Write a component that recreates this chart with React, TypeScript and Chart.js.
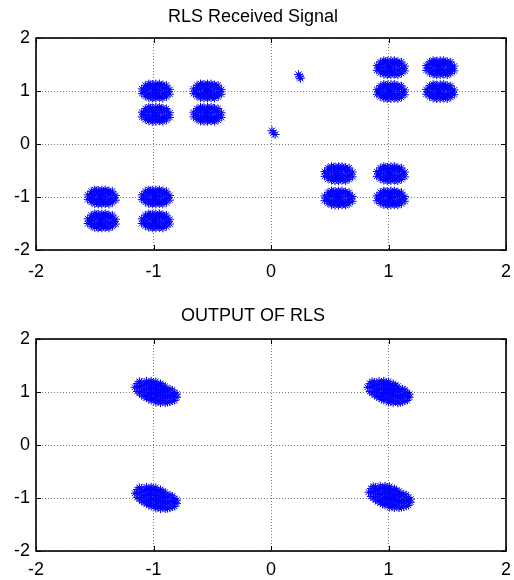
import React, { useEffect, useRef } from 'react';
import { Chart, registerables } from 'chart.js';

Chart.register(...registerables);

// ---- Data ----
// Top plot: "RLS Received Signal" — cluster centres
const receivedClusterX = [-0.98, -0.98, -0.54, -0.54, -1.44, -1.44, -0.98, -0.98, 1.02, 1.02, 1.44, 1.44, 0.575, 0.575, 1.02, 1.02];
const receivedClusterY = [1.0, 0.56, 1.0, 0.56, -1.0, -1.45, -1.0, -1.45, 1.44, 0.99, 1.44, 0.99, -0.56, -1.02, -0.56, -1.02];
// spread of samples around each received cluster centre
const receivedSpreadDx = [
  -0.12, -0.12,
  -0.09, -0.09, -0.09, -0.09,
  -0.06, -0.06, -0.06, -0.06, -0.06,
  -0.03, -0.03, -0.03, -0.03, -0.03,
  0, 0, 0, 0, 0, 0,
  0.03, 0.03, 0.03, 0.03, 0.03,
  0.06, 0.06, 0.06, 0.06,
  0.09, 0.09, 0.09, 0.09,
  0.12, 0.12,
  -0.105, 0.105, -0.075, -0.075, 0.075, 0.075, -0.045, -0.045, 0.045, 0.045, -0.015, -0.015, 0.015, 0.015,
];
const receivedSpreadDy = [
  -0.05, 0.04,
  -0.1, -0.02, 0.06, 0.11,
  -0.13, -0.05, 0.03, 0.1, 0.14,
  -0.14, -0.07, 0.0, 0.07, 0.13,
  -0.14, -0.09, -0.03, 0.03, 0.09, 0.14,
  -0.13, -0.06, 0.01, 0.08, 0.14,
  -0.14, -0.04, 0.04, 0.12,
  -0.11, -0.03, 0.05, 0.11,
  -0.06, 0.03,
  0.0, -0.01, -0.07, 0.08, 0.08, -0.08, 0.12, -0.11, -0.11, 0.11, 0.04, -0.04, -0.1, 0.1,
];
// isolated received samples
const receivedOutlierX = [0.235, 0.245, 0.25, 0.008, 0.02, 0.035];
const receivedOutlierY = [1.31, 1.27, 1.24, 0.25, 0.21, 0.18];

// Bottom plot: "OUTPUT OF RLS" — cluster centres
const outputClusterX = [-0.98, -0.98, 1.0, 1.01];
const outputClusterY = [1.0, -1.0, 1.0, -0.98];
// tilted spread around each output cluster centre
const outputSpreadDx = [
  -0.16, -0.16,
  -0.12, -0.12, -0.12,
  -0.08, -0.08, -0.08, -0.08,
  -0.04, -0.04, -0.04, -0.04, -0.04,
  0, 0, 0, 0, 0,
  0.04, 0.04, 0.04, 0.04, 0.04,
  0.08, 0.08, 0.08, 0.08,
  0.12, 0.12, 0.12,
  0.16, 0.16,
  -0.14, -0.14, -0.14,
  -0.1, -0.1, -0.1,
  -0.06, -0.06, -0.06, -0.06,
  -0.02, -0.02, -0.02, -0.02,
  0.02, 0.02, 0.02, 0.02,
  0.06, 0.06, 0.06, 0.06,
  0.1, 0.1, 0.1,
  0.14, 0.14, 0.14,
  -0.16,
  -0.12, -0.12,
  -0.08, -0.08, -0.08,
  -0.04, -0.04, -0.04, -0.04,
  0, 0, 0, 0,
  0.04, 0.04, 0.04, 0.04,
  0.08, 0.08, 0.08,
  0.12, 0.12,
  0.16,
  0.18, 0.18,
  -0.18,
];
const outputSpreadDy = [
  0.01, 0.16,
  -0.06, 0.06, 0.19,
  -0.11, 0.0, 0.11, 0.21,
  -0.16, -0.06, 0.04, 0.14, 0.21,
  -0.2, -0.1, 0.0, 0.1, 0.2,
  -0.21, -0.11, -0.01, 0.09, 0.16,
  -0.21, -0.1, 0.01, 0.11,
  -0.19, -0.06, 0.06,
  -0.16, -0.01,
  -0.02, 0.1, 0.2,
  -0.09, 0.04, 0.15,
  -0.14, -0.04, 0.07, 0.17,
  -0.14, -0.02, 0.07, 0.16,
  -0.17, -0.06, 0.04, 0.14,
  -0.17, -0.07, 0.04, 0.12,
  -0.2, -0.09, 0.04,
  -0.17, -0.05, 0.04,
  0.085,
  0.0, 0.125,
  -0.055, 0.055, 0.16,
  -0.11, -0.01, 0.09, 0.175,
  -0.15, -0.05, 0.05, 0.15,
  -0.16, -0.06, 0.04, 0.125,
  -0.155, -0.045, 0.06,
  -0.125, 0.0,
  -0.085,
  -0.1, -0.04,
  0.09,
];

const axisTicks = [-2, -1, 0, 1, 2];
const topTitle = 'RLS Received Signal';
const bottomTitle = 'OUTPUT OF RLS';

type Pt = { x: number; y: number };

function buildPoints(cx: number[], cy: number[], dx: number[], dy: number[]): Pt[] {
  const pts: Pt[] = [];
  for (let c = 0; c < cx.length; c++) {
    for (let i = 0; i < dx.length; i++) pts.push({ x: cx[c] + dx[i], y: cy[c] + dy[i] });
  }
  return pts;
}

function zipPoints(xs: number[], ys: number[]): Pt[] {
  return xs.map((x, i) => ({ x, y: ys[i] }));
}

const FONT = "'Liberation Sans', Arial, Helvetica, sans-serif";

const framePlugin = {
  id: 'matlabFrame',
  afterDraw(chart: any) {
    const { ctx, chartArea } = chart;
    const xs = chart.scales.x;
    const ys = chart.scales.y;
    const { left, right, top, bottom } = chartArea;
    ctx.save();
    ctx.strokeStyle = '#000';
    ctx.lineWidth = 1;
    const tl = 5;
    ctx.beginPath();
    axisTicks.forEach((v) => {
      const px = Math.round(xs.getPixelForValue(v)) + 0.5;
      ctx.moveTo(px, bottom); ctx.lineTo(px, bottom - tl);
      ctx.moveTo(px, top); ctx.lineTo(px, top + tl);
      const py = Math.round(ys.getPixelForValue(v)) + 0.5;
      ctx.moveTo(left, py); ctx.lineTo(left + tl, py);
      ctx.moveTo(right, py); ctx.lineTo(right - tl, py);
    });
    ctx.stroke();
    ctx.lineWidth = 1.6;
    ctx.strokeRect(left, top, right - left, bottom - top);
    ctx.restore();
  },
};

interface PlotProps {
  title: string;
  clusters: Pt[];
  singles: Pt[];
  topPad: number;
  bottomPad: number;
  xAxisHeight: number;
  labelPad: number;
  canvasTop: number;
}

function ScatterPlot({ title, clusters, singles, topPad, bottomPad, xAxisHeight, labelPad, canvasTop }: PlotProps) {
  const ref = useRef<HTMLCanvasElement>(null);
  useEffect(() => {
    if (!ref.current) return;
    const chart = new Chart(ref.current, {
      type: 'scatter',
      data: {
        datasets: [
          {
            data: clusters,
            pointStyle: 'star',
            radius: 4,
            borderWidth: 1,
            borderColor: '#0000ff',
            backgroundColor: '#0000ff',
          },
          {
            data: singles,
            pointStyle: 'star',
            radius: 4.5,
            borderWidth: 1,
            borderColor: '#0000ff',
            backgroundColor: '#0000ff',
          },
        ],
      },
      options: {
        animation: false,
        responsive: false,
        devicePixelRatio: 1,
        layout: { padding: { left: 0, right: 8, top: 0, bottom: 0 } },
        plugins: {
          legend: { display: false },
          tooltip: { enabled: false },
          title: {
            display: true,
            text: title,
            color: '#000',
            font: { family: FONT, size: 18, weight: 'normal', lineHeight: 1.2 },
            padding: { top: topPad, bottom: bottomPad },
          },
        },
        scales: {
          x: {
            type: 'linear',
            min: -2,
            max: 2,
            ticks: {
              stepSize: 1,
              color: '#000',
              font: { family: FONT, size: 18 },
              padding: labelPad,
              maxRotation: 0,
              autoSkip: false,
            },
            grid: { color: '#7a7a7a', lineWidth: 1, drawTicks: false },
            border: { display: false, dash: [1, 2] },
            afterFit: (s: any) => {
              s.height = xAxisHeight;
              s.paddingLeft = 0;
              s.paddingRight = 0;
            },
          },
          y: {
            type: 'linear',
            min: -2,
            max: 2,
            ticks: {
              stepSize: 1,
              color: '#000',
              font: { family: FONT, size: 18 },
              padding: 6,
              autoSkip: false,
            },
            grid: { color: '#7a7a7a', lineWidth: 1, drawTicks: false },
            border: { display: false, dash: [1, 2] },
            afterFit: (s: any) => {
              s.width = 36;
              s.paddingTop = 0;
              s.paddingBottom = 0;
            },
          },
        },
      },
      plugins: [framePlugin],
    } as any);
    return () => chart.destroy();
  }, []);
  return (
    <canvas
      ref={ref}
      width={514}
      height={290}
      style={{ position: 'absolute', left: 0, top: canvasTop, width: 514, height: 290 }}
    />
  );
}

export default function App() {
  const receivedPoints = buildPoints(receivedClusterX, receivedClusterY, receivedSpreadDx, receivedSpreadDy);
  const receivedSingles = zipPoints(receivedOutlierX, receivedOutlierY);
  const outputPoints = buildPoints(outputClusterX, outputClusterY, outputSpreadDx, outputSpreadDy);
  return (
    <div style={{ position: 'absolute', left: 0, top: 0, width: 514, height: 580, background: '#fff', overflow: 'hidden' }}>
      <ScatterPlot title={topTitle} clusters={receivedPoints} singles={receivedSingles} topPad={6} bottomPad={10.4} xAxisHeight={40} labelPad={11} canvasTop={0} />
      <ScatterPlot title={bottomTitle} clusters={outputPoints} singles={[]} topPad={15.5} bottomPad={11.9} xAxisHeight={29} labelPad={8} canvasTop={290} />
    </div>
  );
}
